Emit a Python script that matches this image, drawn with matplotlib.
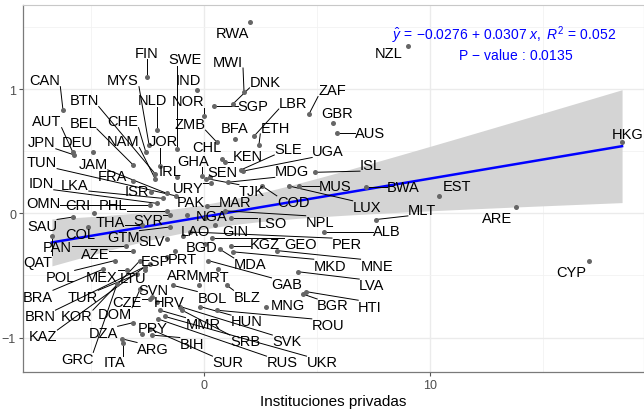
import numpy as np
import matplotlib.pyplot as plt

plt.rcParams['font.family'] = ['Liberation Sans', 'DejaVu Sans']
plt.rcParams['mathtext.fontset'] = 'custom'
plt.rcParams['mathtext.rm'] = 'Liberation Sans'
plt.rcParams['mathtext.it'] = 'Liberation Sans:italic'

# country codes, x (instituciones privadas), y (residual value)
codes = ['RWA', 'FIN', 'SWE', 'MWI', 'NZL', 'CAN', 'MYS', 'IND', 'DNK', 'ZAF',
         'BTN', 'NLD', 'NOR', 'SGP', 'LBR', 'GBR', 'AUT', 'BEL', 'CHE', 'ZMB',
         'BFA', 'ETH', 'AUS', 'JPN', 'DEU', 'NAM', 'JOR', 'CHL', 'KEN', 'SLE',
         'UGA', 'TUN', 'JAM', 'GHA', 'HKG', 'IRL', 'FRA', 'SEN', 'MDG', 'ISL',
         'IDN', 'LKA', 'ISR', 'URY', 'TJK', 'MUS', 'OMN', 'CRI', 'PHL', 'PAK',
         'MAR', 'COD', 'BWA', 'EST', 'SAU', 'THA', 'SYR', 'NGA', 'LUX', 'NPL',
         'MLT', 'COL', 'GTM', 'SLV', 'LAO', 'LSO', 'GIN', 'ALB', 'ARE', 'PAN',
         'AZE', 'QAT', 'ESP', 'PRT', 'BGD', 'KGZ', 'GEO', 'PER', 'POL', 'MEX',
         'MDA', 'MKD', 'MNE', 'LTU', 'ARM', 'MRT', 'BRA', 'TUR', 'GAB', 'LVA',
         'SVN', 'BLZ', 'MNG', 'BGR', 'HTI', 'CZE', 'HRV', 'BOL', 'CYP', 'BRN',
         'KOR', 'DOM', 'HUN', 'ROU', 'KAZ', 'DZA', 'MMR', 'SRB', 'SVK', 'PRY',
         'BIH', 'GRC', 'ITA', 'ARG', 'SUR', 'RUS', 'UKR']
priv = [2.04, -2.52, -1.19, 1.77, 9.03, -6.24, -2.43, -0.31, 1.28, 4.65,
        -2.17, -2.08, 0.00, 0.44, 2.21, 5.71, -5.80, -3.14, -2.57, 0.58,
        1.37, 2.43, 5.88, -5.75, -4.91, -2.17, -1.95, 0.80, 0.93, 1.64,
        1.73, -1.24, -1.64, -0.09, 18.50, -1.19, -3.14, 0.27, 1.06, 4.91,
        -2.08, -1.81, -2.35, 0.31, 0.09, 4.20, -2.39, -4.87, -1.64, -0.75,
        0.13, 2.57, 7.17, 10.40, -5.80, -2.74, -1.50, 0.04, 3.76, 0.93,
        7.61, -5.13, -1.50, -1.64, -0.93, 1.19, 0.49, 5.31, 13.81, -3.45,
        -3.14, -6.73, -1.64, -1.28, 0.04, 1.19, 0.35, -0.62, -3.94, -3.41,
        0.71, 1.28, 3.23, -2.61, -0.22, 0.62, -4.47, -2.96, 0.18, 4.16,
        -2.30, 1.02, 2.74, 4.38, 4.51, -2.39, -2.08, -1.37, 17.04, -2.39,
        -2.83, -2.83, -0.18, 0.58, -2.61, -3.14, -1.95, -0.97, -1.06, -2.74,
        -2.30, -3.85, -3.58, -3.63, -2.39, -2.04, -1.73]
resid = [1.54, 1.10, 0.52, 0.98, 1.35, 0.83, 0.55, 0.99, 0.88, 0.80,
         0.32, 0.67, 0.78, 0.86, 0.62, 0.73, 0.49, 0.39, 0.49, 0.57,
         0.60, 0.55, 0.65, 0.47, 0.49, 0.28, 0.38, 0.44, 0.41, 0.35,
         0.34, 0.14, 0.16, 0.30, 0.57, 0.29, 0.26, 0.29, 0.25, 0.33,
         0.08, 0.12, 0.17, 0.24, 0.28, 0.22, 0.07, 0.00, 0.02, -0.01,
         0.06, 0.22, 0.21, 0.14, -0.03, -0.09, -0.01, -0.04, 0.22, 0.02,
         -0.05, -0.11, -0.11, -0.21, -0.18, -0.04, -0.09, -0.15, 0.05, -0.26,
         -0.30, -0.18, -0.35, -0.30, -0.25, -0.26, -0.20, -0.15, -0.38, -0.46,
         -0.29, -0.31, -0.30, -0.46, -0.58, -0.45, -0.45, -0.49, -0.38, -0.47,
         -0.67, -0.58, -0.75, -0.65, -0.63, -0.69, -0.71, -0.58, -0.38, -0.41,
         -0.38, -0.61, -0.75, -0.78, -0.43, -0.88, -0.78, -0.78, -0.75, -0.97,
         -0.98, -0.57, -1.04, -1.01, -0.93, -0.85, -0.83]

# repelled label positions (data units)
lab_x = [1.24, -2.52, -0.84, 1.06, 8.19, -7.04, -3.58, -0.71, 2.70, 5.66,
         -5.31, -2.30, -0.71, 2.17, 3.94, 5.88, -6.95, -5.35, -3.58, -0.62,
         1.37, 3.14, 7.35, -7.17, -5.62, -3.58, -1.81, 0.13, 1.95, 3.72,
         5.49, -7.17, -4.91, -0.49, 18.76, -1.50, -4.03, 0.80, 3.89, 7.39,
         -7.21, -5.71, -2.96, -0.71, 2.12, 5.80, -7.12, -5.58, -4.03, -0.60,
         1.37, 3.94, 8.81, 11.19, -7.17, -4.16, -2.48, 0.32, 7.21, 5.13,
         9.65, -5.49, -3.58, -2.30, -0.40, 3.01, 1.37, 8.10, 12.96, -6.50,
         -4.82, -7.35, -2.17, -0.97, -0.09, 2.70, 4.25, 6.33, -6.37, -4.51,
         2.04, 5.58, 7.65, -3.14, -0.93, 0.44, -7.35, -5.35, 3.67, 7.43,
         -2.26, 1.90, 3.72, 5.71, 7.35, -3.41, -1.55, 0.35, 16.24, -7.26,
         -5.62, -3.94, 1.90, 5.49, -7.12, -4.47, -0.04, 1.81, 3.67, -2.26,
         -0.53, -5.62, -3.94, -2.26, 1.06, 3.45, 5.22]
lab_y = [1.45, 1.29, 1.24, 1.22, 1.29, 1.07, 1.07, 1.07, 1.06, 0.99,
         0.91, 0.91, 0.90, 0.86, 0.89, 0.81, 0.74, 0.73, 0.74, 0.72,
         0.69, 0.69, 0.65, 0.57, 0.57, 0.58, 0.58, 0.53, 0.46, 0.52,
         0.50, 0.41, 0.40, 0.42, 0.64, 0.34, 0.30, 0.33, 0.34, 0.39,
         0.24, 0.23, 0.18, 0.20, 0.18, 0.22, 0.08, 0.07, 0.07, 0.09,
         0.09, 0.09, 0.21, 0.22, -0.10, -0.07, -0.05, -0.02, 0.05, -0.07,
         0.03, -0.17, -0.19, -0.22, -0.14, -0.08, -0.14, -0.14, -0.04, -0.27,
         -0.33, -0.39, -0.38, -0.37, -0.27, -0.25, -0.25, -0.25, -0.51, -0.51,
         -0.41, -0.42, -0.42, -0.52, -0.50, -0.51, -0.67, -0.67, -0.57, -0.58,
         -0.62, -0.67, -0.74, -0.74, -0.75, -0.71, -0.71, -0.68, -0.47, -0.83,
         -0.83, -0.81, -0.87, -0.90, -0.99, -0.96, -0.89, -1.03, -1.03, -0.92,
         -1.05, -1.17, -1.20, -1.09, -1.20, -1.20, -1.20]

# fit shown in the chart
intercept = -0.0276
slope = 0.0307
eq_line1 = r'$\hat{y}\,=\,{-0.0276}\,+\,0.0307\ x,\ R^2\,=\,0.052$'
eq_line2 = r'$\mathrm{P}\,-\,\mathrm{value}\,:\,0.0135$'

x = np.array(priv)
y = np.array(resid)
n = len(x)

fig = plt.figure(figsize=(6.44, 4.10), dpi=100)
ax = fig.add_axes([0.0357, 0.0902, 0.9643, 0.8951])

xs = np.linspace(x.min(), x.max(), 200)
yhat = intercept + slope * xs
res = y - (intercept + slope * x)
s = np.sqrt(np.sum(res ** 2) / (n - 2))
sxx = np.sum((x - x.mean()) ** 2)
se = s * np.sqrt(1 / n + (xs - x.mean()) ** 2 / sxx)
ax.fill_between(xs, yhat - 1.98 * se, yhat + 1.98 * se, color='#d4d4d4', lw=0, zorder=1)
ax.plot(xs, yhat, color='#0000ff', lw=1.8, zorder=2)

ax.scatter(x, y, s=13, color='#666666', zorder=4, linewidths=0)

ax.set_xlim(-8.01, 19.47)
ax.set_ylim(-1.277, 1.676)
ax.set_xticks([0, 10])
ax.set_yticks([-1, 0, 1])
ax.set_xticks([-5, 5, 15], minor=True)
ax.set_yticks([-0.5, 0.5, 1.5], minor=True)
ax.grid(True, which='major', color='#ebebeb', lw=1.0, zorder=0)
ax.grid(True, which='minor', color='#f2f2f2', lw=0.6, zorder=0)
ax.set_axisbelow(True)
ax.tick_params(which='major', length=3, color='#555555', labelcolor='#4d4d4d',
               labelsize=9, pad=2)
ax.tick_params(which='minor', length=0)
for sp in ['top', 'right']:
    ax.spines[sp].set_color('#c8c8c8')
    ax.spines[sp].set_linewidth(0.8)
for sp in ['left', 'bottom']:
    ax.spines[sp].set_color('#7a7a7a')
    ax.spines[sp].set_linewidth(0.9)
ax.set_xlabel('Instituciones privadas', fontsize=11, labelpad=2)

texts = []
for c, lx, ly in zip(codes, lab_x, lab_y):
    t = ax.text(lx, ly, c, fontsize=10.5, ha='center', va='center', zorder=6)
    texts.append(t)

ax.text(13.27, 1.44, eq_line1, color='#0000ff', fontsize=10, ha='center', va='center')
ax.text(13.8, 1.28, eq_line2, color='#0000ff', fontsize=10, ha='center', va='center')

# segments from point to label box
fig.canvas.draw()
rend = fig.canvas.get_renderer()
inv = ax.transData.inverted()
for t, px, py in zip(texts, priv, resid):
    bb = t.get_window_extent(rend).expanded(1.0, 0.9)
    p = ax.transData.transform((px, py))
    qx = min(max(p[0], bb.x0), bb.x1)
    qy = min(max(p[1], bb.y0), bb.y1)
    d = np.hypot(p[0] - qx, p[1] - qy)
    if d > 7:
        a = inv.transform(p)
        b = inv.transform((qx, qy))
        ax.plot([a[0], b[0]], [a[1], b[1]], color='black', lw=0.7, zorder=3)

fig.savefig('out.png', dpi=100)
